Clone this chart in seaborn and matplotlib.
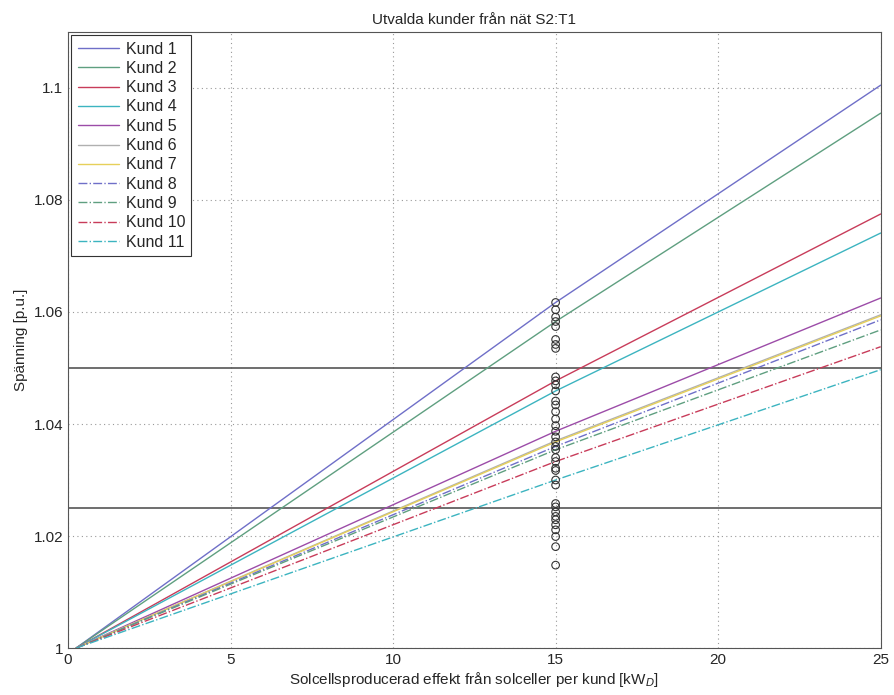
import numpy as np
import pandas as pd
import seaborn as sns
import matplotlib.pyplot as plt

# effekt per kund [kW] och spänning [p.u.] för varje kund
x_pts = [0.25, 15, 25]
kund_labels = ["Kund %d" % i for i in range(1, 12)]
u_at_15 = [1.0617, 1.0583, 1.0477, 1.0459, 1.0387, 1.0370, 1.0368,
           1.0360, 1.0354, 1.0333, 1.0300]
u_at_25 = [1.1005, 1.0955, 1.0775, 1.0741, 1.0625, 1.0595, 1.0593,
           1.0586, 1.0568, 1.0538, 1.0497]

# spänning för alla kunder vid 15 kW
circles = [1.0617, 1.0604, 1.0591, 1.0583, 1.0574, 1.0551, 1.0542, 1.0535,
           1.0484, 1.0477, 1.0470, 1.0459, 1.0441, 1.0434, 1.0422, 1.0409,
           1.0397, 1.0387, 1.0377, 1.0368, 1.0360, 1.0354, 1.0340, 1.0333,
           1.0321, 1.0317, 1.0300, 1.0291, 1.0258, 1.0252, 1.0243, 1.0235,
           1.0229, 1.0220, 1.0211, 1.0199, 1.0181, 1.0148]

limits = [1.05, 1.025]

colors = ["#6f6fc8", "#5f9f80", "#c83c5a", "#3cb4c0", "#9c4ca8", "#b0b0b0",
          "#e6d05a", "#6f6fc8", "#5f9f80", "#c83c5a", "#3cb4c0"]
styles = ["-"] * 7 + ["-."] * 4

sns.set_style("white")
plt.rcParams["font.family"] = ["Liberation Sans", "DejaVu Sans"]

fig = plt.figure(figsize=(8.95, 6.95), dpi=100)
ax = fig.add_axes([0.076, 0.0676, 0.908, 0.8864])

for i, lab in enumerate(kund_labels):
    d = pd.DataFrame({"x": x_pts, "u": [1.0, u_at_15[i], u_at_25[i]]})
    sns.lineplot(data=d, x="x", y="u", ax=ax, color=colors[i], linestyle=styles[i],
                 linewidth=1.0, label=lab)

sns.scatterplot(x=[15] * len(circles), y=circles, ax=ax, marker="o", s=30,
                facecolor="none", edgecolor="#333333", linewidth=0.8, zorder=5)

for lim in limits:
    ax.axhline(lim, color="#555555", linewidth=1.2, zorder=1)

ax.set_xlim(0, 25)
ax.set_ylim(1.0, 1.11)
ax.set_xticks([0, 5, 10, 15, 20, 25])
ax.set_yticks([1.0, 1.02, 1.04, 1.06, 1.08, 1.1])
ax.set_yticklabels(["1", "1.02", "1.04", "1.06", "1.08", "1.1"])
ax.grid(True, linestyle=(0, (1, 3)), color="#999999", linewidth=0.8)
ax.tick_params(direction="in", length=4, labelsize=11, color="#555555")
for s in ax.spines.values():
    s.set_color("#555555")
    s.set_linewidth(0.8)

ax.set_title("Utvalda kunder från nät S2:T1", fontsize=11)
ax.set_xlabel("Solcellsproducerad effekt från solceller per kund [kW$_D$]", fontsize=11, labelpad=2)
ax.set_ylabel("Spänning [p.u.]", fontsize=11)

leg = ax.legend(loc="upper left", fontsize=11.5, handlelength=2.6, handletextpad=0.4,
                labelspacing=0.27, borderaxespad=0.2, fancybox=False, framealpha=1,
                edgecolor="#333333")
leg.get_frame().set_linewidth(0.8)

fig.savefig("out.png", dpi=100)
